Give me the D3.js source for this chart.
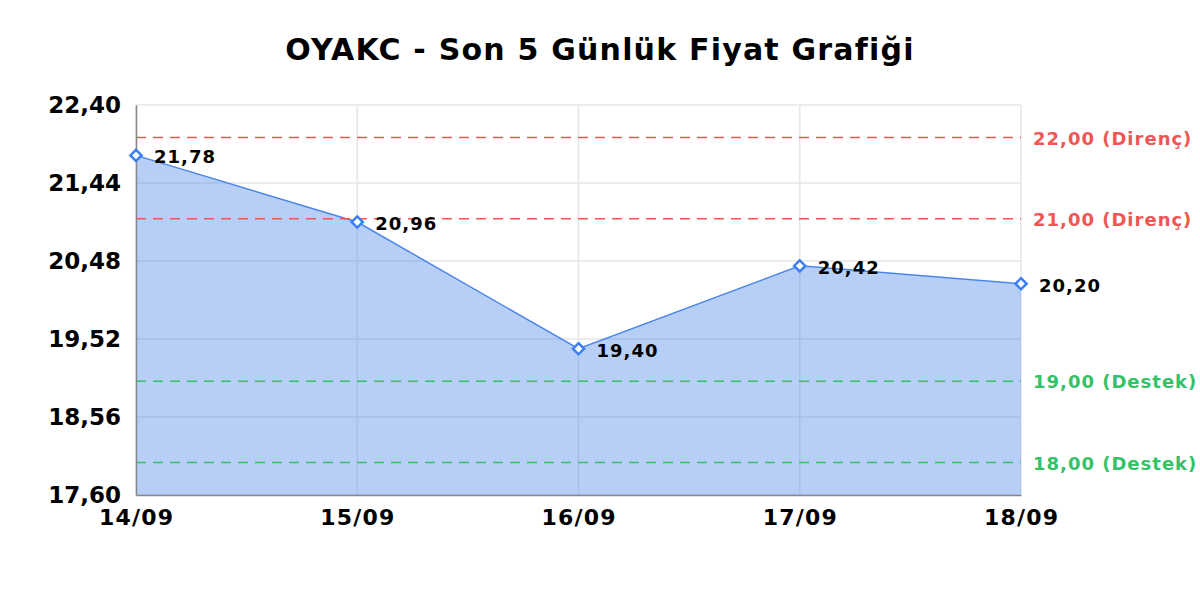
<!DOCTYPE html>
<html lang="tr">
<head>
<meta charset="UTF-8">
<title>OYAKC - Son 5 Günlük Fiyat Grafiği</title>
<script src="https://d3js.org/d3.v7.min.js"></script>
<style>
  body { margin: 0; background: #fff; }
  text { font-family: "DejaVu Sans", sans-serif; }
</style>
</head>
<body>
<div id="chart"></div>
<script>
// data
const dates = ["14/09", "15/09", "16/09", "17/09", "18/09"];
const prices = [21.78, 20.96, 19.40, 20.42, 20.20];
const yTicks = [17.60, 18.56, 19.52, 20.48, 21.44, 22.40];
const resistance = [22.00, 21.00];
const support = [19.00, 18.00];

const W = 1200, H = 600;
const margin = { top: 105, right: 179, bottom: 105, left: 136 };
const width = W - margin.left - margin.right;
const height = H - margin.top - margin.bottom;
const fmt = v => v.toFixed(2).replace(".", ",");

const svg = d3.select("#chart").append("svg")
  .attr("width", W).attr("height", H);

svg.append("text")
  .attr("x", 600).attr("y", 60)
  .attr("text-anchor", "middle")
  .style("font-size", "30px").style("font-weight", "bold")
  .style("letter-spacing", "1.2px")
  .text("OYAKC - Son 5 Günlük Fiyat Grafiği");

const g = svg.append("g").attr("transform", `translate(${margin.left},${margin.top})`);

const x = d3.scalePoint().domain(dates).range([0, width]);
const y = d3.scaleLinear().domain([17.60, 22.40]).range([height, 0]);

// grid
g.append("g").selectAll("line").data(yTicks).join("line")
  .attr("x1", 0).attr("x2", width)
  .attr("y1", d => y(d)).attr("y2", d => y(d))
  .attr("stroke", "#e6e6e6").attr("stroke-width", 1.5);
g.append("g").selectAll("line").data(dates).join("line")
  .attr("x1", d => x(d)).attr("x2", d => x(d))
  .attr("y1", 0).attr("y2", height)
  .attr("stroke", "#e6e6e6").attr("stroke-width", 1.5);

const pts = dates.map((d, i) => ({ date: d, value: prices[i] }));

// area
g.append("path").datum(pts)
  .attr("fill", "#4a86e8").attr("fill-opacity", 0.4)
  .attr("d", d3.area().x(d => x(d.date)).y0(height).y1(d => y(d.value)));

g.append("path").datum(pts)
  .attr("fill", "none").attr("stroke", "#4a86e8").attr("stroke-width", 1.5)
  .attr("d", d3.line().x(d => x(d.date)).y(d => y(d.value)));

// reference lines
const refs = resistance.map(v => ({ v, label: fmt(v) + " (Direnç)", c: "#f05555" }))
  .concat(support.map(v => ({ v, label: fmt(v) + " (Destek)", c: "#33c266" })));
g.append("g").selectAll("line").data(refs).join("line")
  .attr("x1", 0).attr("x2", width)
  .attr("y1", d => y(d.v)).attr("y2", d => y(d.v))
  .attr("stroke", d => d.c).attr("stroke-width", 1.5)
  .attr("stroke-dasharray", "10,7");
g.append("g").selectAll("text").data(refs).join("text")
  .attr("x", width + 12).attr("y", d => y(d.v) + 7)
  .attr("fill", d => d.c)
  .style("font-size", "18px").style("font-weight", "bold")
  .style("letter-spacing", "1px")
  .text(d => d.label);

// axes
const yAxis = g.append("g")
  .call(d3.axisLeft(y).tickValues(yTicks).tickFormat(fmt).tickSize(0).tickPadding(15));
yAxis.select(".domain").attr("stroke", "#888").attr("stroke-width", 1.5);
yAxis.selectAll("text").style("font-size", "23px").style("font-weight", "bold").attr("fill", "#000");

const xAxis = g.append("g").attr("transform", `translate(0,${height})`)
  .call(d3.axisBottom(x).tickSize(0).tickPadding(14));
xAxis.select(".domain").attr("stroke", "#888").attr("stroke-width", 1.5);
xAxis.selectAll("text").style("font-size", "22px").style("font-weight", "bold")
  .style("letter-spacing", "1.2px").attr("fill", "#000");

// markers
g.append("g").selectAll("path").data(pts).join("path")
  .attr("transform", d => `translate(${x(d.date)},${y(d.value)})`)
  .attr("d", d3.symbol().type(d3.symbolDiamond2).size(80))
  .attr("fill", "#fff").attr("stroke", "#3d7ff0").attr("stroke-width", 2.5);

// value labels
g.append("g").selectAll("text").data(pts).join("text")
  .attr("x", d => x(d.date) + 18).attr("y", d => y(d.value) + 8)
  .style("font-size", "18px").style("font-weight", "bold")
  .style("letter-spacing", "1px")
  .text(d => fmt(d.value));
</script>
</body>
</html>
